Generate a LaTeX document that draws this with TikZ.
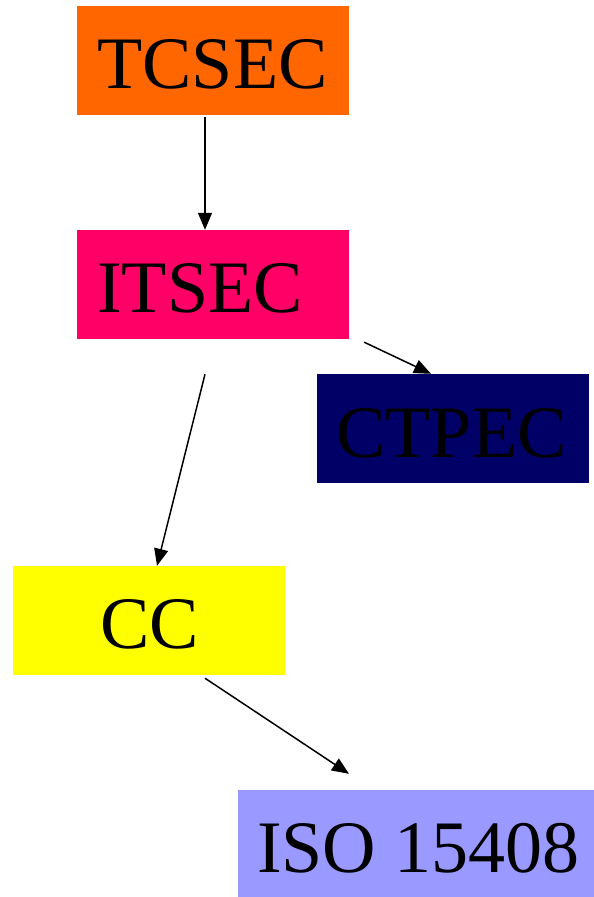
\documentclass[tikz,border=0pt]{standalone}
\usepackage{fontspec}
\setmainfont{Liberation Serif}
\usetikzlibrary{arrows.meta}
\definecolor{tcsecfill}{HTML}{FF6600}
\definecolor{itsecfill}{HTML}{FF0066}
\definecolor{ctpecfill}{HTML}{000066}
\definecolor{ccfill}{HTML}{FFFF00}
\definecolor{isofill}{HTML}{9999FF}
\tikzset{
  stdbox/.style={rectangle, inner sep=0pt, minimum width=272pt, minimum height=109pt},
  stdlabel/.style={inner sep=0pt, anchor=base, text=black,
    font=\fontsize{74}{80}\selectfont},
  arr/.style={line width=1.5pt, draw=black, -{Triangle[length=17pt,width=14pt]}}
}
\begin{document}
\begin{tikzpicture}[x=1pt, y=-1pt]
  \useasboundingbox (0,0) rectangle (594,897);
  \fill[white] (0,0) rectangle (594,897);

  % standards boxes
  \node[stdbox, fill=tcsecfill] (tcsec) at (213,60.5) {};
  \node[stdbox, fill=itsecfill] (itsec) at (213,284.5) {};
  \node[stdbox, fill=ctpecfill] (ctpec) at (453,428.5) {};
  \node[stdbox, fill=ccfill] (cc) at (149,620.5) {};
  \node[stdbox, fill=isofill, minimum width=356pt] (iso) at (416,844.5) {};

  % labels
  \node[stdlabel] (tcsecT) at (212.5,88) {TCSEC};
  \node[stdlabel, anchor=base west] (itsecT) at (97,312) {ITSEC};
  \node[stdlabel] (ctpecT) at (451.5,457) {CTPEC};
  \node[stdlabel] (ccT) at (149.5,648) {CC};
  \node[stdlabel] (isoT) at (418.5,872) {ISO 15408};

  % lineage arrows
  \draw[arr] ([xshift=-8pt,yshift=-2pt]tcsec.south) -- ([xshift=-8pt]itsec.north);
  \draw[arr] ([xshift=15pt,yshift=-3pt]itsec.south east) -- ([xshift=-22pt]ctpec.north);
  \draw[arr] ([xshift=-8pt,yshift=-35pt]itsec.south) -- ([xshift=8pt]cc.north);
  \draw[arr] ([xshift=56pt,yshift=-3pt]cc.south) -- ([xshift=-67pt,yshift=16pt]iso.north);
\end{tikzpicture}
\end{document}
